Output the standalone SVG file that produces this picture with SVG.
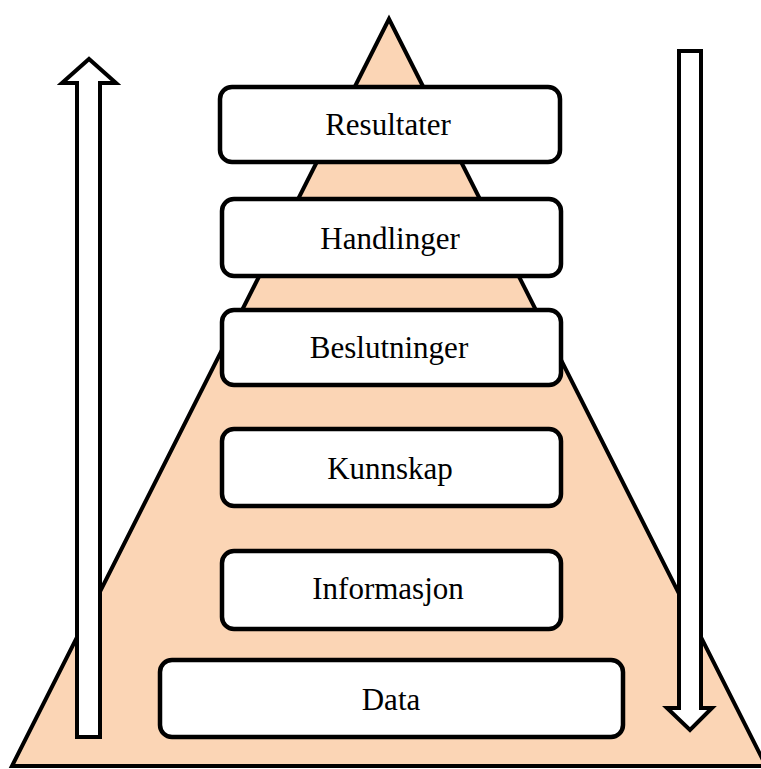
<svg xmlns="http://www.w3.org/2000/svg" width="761" height="769" viewBox="0 0 761 769">
  <style>
    .pyramid { fill: #fbd5b5; stroke: #000; stroke-width: 4; stroke-linejoin: miter; }
    .box { fill: #fff; stroke: #000; stroke-width: 4.5; }
    .label { font-family: "Liberation Serif", "Times New Roman", serif; font-size: 31px; fill: #000; text-anchor: middle; }
    .arrow { fill: #fff; stroke: #000; stroke-width: 4; stroke-linejoin: miter; }
  </style>

  <!-- background pyramid -->
  <polygon class="pyramid" points="389,19 12,766 766,766"/>

  <!-- block arrows along the sides -->
  <g id="connectors">
    <polygon class="arrow" points="77,737 100,737 100,83 116,83 89,59 62,83 77,83"/>
    <polygon class="arrow" points="679,51 701,51 701,708 712,708 690,730 667,708 679,708"/>
  </g>

  <g id="resultater">
    <rect class="box" x="220" y="87" width="340" height="75" rx="12"/>
    <text class="label" x="388" y="135">Resultater</text>
  </g>
  <g id="handlinger">
    <rect class="box" x="222" y="199" width="339" height="77" rx="12"/>
    <text class="label" x="390" y="249">Handlinger</text>
  </g>
  <g id="beslutninger">
    <rect class="box" x="222" y="310" width="339" height="75" rx="12"/>
    <text class="label" x="389" y="358">Beslutninger</text>
  </g>
  <g id="kunnskap">
    <rect class="box" x="222" y="429" width="339" height="77" rx="12"/>
    <text class="label" x="390" y="479">Kunnskap</text>
  </g>
  <g id="informasjon">
    <rect class="box" x="222" y="551" width="339" height="78" rx="12"/>
    <text class="label" x="388" y="599">Informasjon</text>
  </g>
  <g id="data">
    <rect class="box" x="160" y="660" width="463" height="77" rx="12"/>
    <text class="label" x="391" y="710">Data</text>
  </g>
</svg>
